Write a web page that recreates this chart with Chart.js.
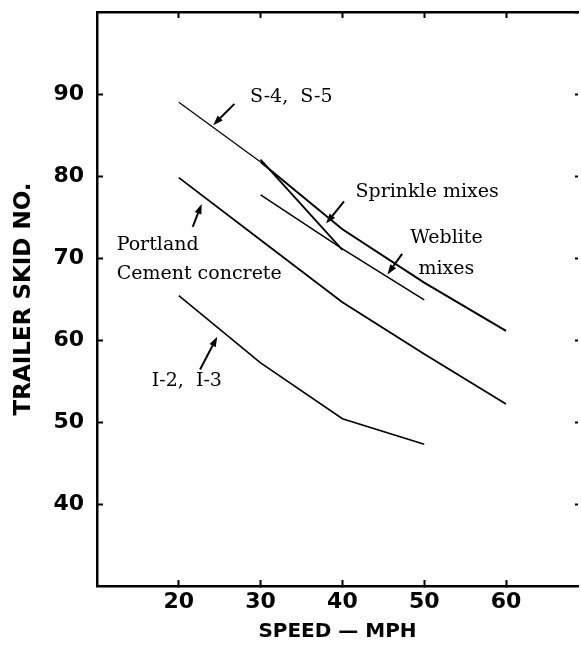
<!DOCTYPE html>
<html>
<head>
<meta charset="utf-8">
<script src="https://cdn.jsdelivr.net/npm/chart.js@4.4.1/dist/chart.umd.min.js"></script>
<style>
  html, body { margin: 0; padding: 0; background: #fff; }
  #wrap { width: 581px; height: 655px; }
</style>
</head>
<body>
<div id="wrap"><canvas id="skidChart"></canvas></div>
<script>
// speed (mph) vs trailer skid number, one pair of arrays per curve
const s45Speed = [20, 30];
const s45Skid = [89.0, 81.7];
const sprinkleSpeed = [30, 40, 50, 60];
const sprinkleSkid = [81.7, 73.5, 67.0, 61.1];
const sprinkleBranchSpeed = [30, 40];
const sprinkleBranchSkid = [82.0, 71.0];
const webliteSpeed = [30, 40, 50];
const webliteSkid = [77.7, 71.1, 64.9];
const portlandSpeed = [20, 30, 40, 50, 60];
const portlandSkid = [79.8, 72.2, 64.6, 58.3, 52.2];
const interstateSpeed = [20, 30, 40, 50];
const interstateSkid = [65.4, 57.2, 50.4, 47.3];

const speedTicks = [20, 30, 40, 50, 60];
const skidTicks = [40, 50, 60, 70, 80, 90];
const frameTicks = [40, 50, 60, 70, 80, 90, 100];

// curve labels (left edge, vertical middle, in data units)
const labelText = ['S-4,  S-5', 'Sprinkle mixes', 'Weblite', 'mixes', 'Portland', 'Cement concrete', 'I-2,  I-3'];
const labelX = [28.7, 41.6, 48.3, 49.3, 12.4, 12.4, 16.7];
const labelY = [89.6, 78.1, 72.4, 68.6, 71.6, 68.1, 55.0];

// pointer arrows, tail -> tip
const arrowFrom = [[26.8, 88.8], [40.2, 76.9], [47.3, 70.5], [21.7, 73.8], [22.6, 56.4]];
const arrowTo = [[24.2, 86.2], [38.0, 74.2], [45.5, 68.0], [22.8, 76.6], [24.7, 60.4]];

function pts(xs, ys) {
    return xs.map((x, i) => ({ x: x, y: ys[i] }));
}

function curve(label, xs, ys, width) {
    return {
        label: label,
        data: pts(xs, ys),
        borderColor: '#000',
        borderWidth: width,
        pointRadius: 0,
        tension: 0,
        fill: false
    };
}

// fixed axis box sizes, and no extra room reserved for edge labels
function fixBox(size) {
    return s => {
        if (s.isHorizontal()) s.height = size; else s.width = size;
        s.paddingTop = 0; s.paddingBottom = 0;
        s.paddingLeft = 0; s.paddingRight = 0;
    };
}

const boldFont = { family: "'DejaVu Sans', sans-serif", weight: 'bold' };

const annotations = {
    id: 'annotations',
    afterDatasetsDraw(chart) {
        const ctx = chart.ctx;
        const xs = chart.scales.x;
        const ys = chart.scales.y;
        ctx.save();
        ctx.fillStyle = '#000';
        ctx.strokeStyle = '#000';
        ctx.font = "19px 'DejaVu Serif', serif";
        ctx.textAlign = 'left';
        ctx.textBaseline = 'middle';
        labelText.forEach((t, i) => {
            ctx.fillText(t, xs.getPixelForValue(labelX[i]), ys.getPixelForValue(labelY[i]));
        });

        ctx.lineWidth = 2;
        arrowFrom.forEach((from, i) => {
            const x0 = xs.getPixelForValue(from[0]);
            const y0 = ys.getPixelForValue(from[1]);
            const x1 = xs.getPixelForValue(arrowTo[i][0]);
            const y1 = ys.getPixelForValue(arrowTo[i][1]);
            const ang = Math.atan2(y1 - y0, x1 - x0);
            const head = 10, half = 3.5;
            const bx = x1 - head * Math.cos(ang);
            const by = y1 - head * Math.sin(ang);
            ctx.beginPath();
            ctx.moveTo(x0, y0);
            ctx.lineTo(bx, by);
            ctx.stroke();
            ctx.beginPath();
            ctx.moveTo(x1, y1);
            ctx.lineTo(bx + half * Math.sin(ang), by - half * Math.cos(ang));
            ctx.lineTo(bx - half * Math.sin(ang), by + half * Math.cos(ang));
            ctx.closePath();
            ctx.fill();
        });
        ctx.restore();
    }
};

new Chart(document.getElementById('skidChart'), {
    type: 'line',
    data: {
        datasets: [
            curve('S-4, S-5', s45Speed, s45Skid, 1.2),
            curve('Sprinkle mixes', sprinkleSpeed, sprinkleSkid, 2),
            curve('Sprinkle mixes (branch)', sprinkleBranchSpeed, sprinkleBranchSkid, 1.8),
            curve('Weblite mixes', webliteSpeed, webliteSkid, 1.5),
            curve('Portland Cement concrete', portlandSpeed, portlandSkid, 1.8),
            curve('I-2, I-3', interstateSpeed, interstateSkid, 1.6)
        ]
    },
    options: {
        responsive: true,
        maintainAspectRatio: false,
        animation: false,
        layout: { padding: 0, autoPadding: false },
        plugins: {
            legend: { display: false },
            tooltip: { enabled: false }
        },
        scales: {
            x: {
                type: 'linear',
                position: 'bottom',
                min: 10,
                max: 68.8,
                afterBuildTicks: s => { s.ticks = speedTicks.map(v => ({ value: v })); },
                afterFit: fixBox(69),
                grid: { drawOnChartArea: false, color: '#000', tickLength: -6, tickWidth: 2 },
                border: { color: '#000', width: 2.5 },
                ticks: { color: '#000', padding: 9, font: { ...boldFont, size: 22 } },
                title: {
                    display: true,
                    text: 'SPEED — MPH',
                    color: '#000',
                    font: { ...boldFont, size: 20 },
                    padding: { top: 0, bottom: 11 }
                }
            },
            x2: {
                type: 'linear',
                position: 'top',
                min: 10,
                max: 68.8,
                afterBuildTicks: s => { s.ticks = speedTicks.map(v => ({ value: v })); },
                afterFit: fixBox(12),
                grid: { drawOnChartArea: false, color: '#000', tickLength: -6, tickWidth: 2 },
                border: { color: '#000', width: 2.5 },
                ticks: { display: false }
            },
            y: {
                type: 'linear',
                position: 'left',
                min: 30,
                max: 100,
                afterBuildTicks: s => { s.ticks = skidTicks.map(v => ({ value: v })); },
                afterFit: fixBox(97),
                grid: { drawOnChartArea: false, color: '#000', tickLength: -6, tickWidth: 2 },
                border: { color: '#000', width: 2.5 },
                ticks: { color: '#000', padding: 19, font: { ...boldFont, size: 22 } },
                title: {
                    display: true,
                    text: 'TRAILER SKID NO.',
                    color: '#000',
                    font: { ...boldFont, size: 23 },
                    padding: { top: 10, bottom: 0 }
                }
            },
            y2: {
                type: 'linear',
                position: 'right',
                min: 30,
                max: 100,
                afterBuildTicks: s => { s.ticks = frameTicks.map(v => ({ value: v })); },
                afterFit: fixBox(3),
                grid: { drawOnChartArea: false, color: '#000', tickLength: -3, tickWidth: 2 },
                border: { display: false },
                ticks: { display: false }
            }
        }
    },
    plugins: [annotations]
});
</script>
</body>
</html>
